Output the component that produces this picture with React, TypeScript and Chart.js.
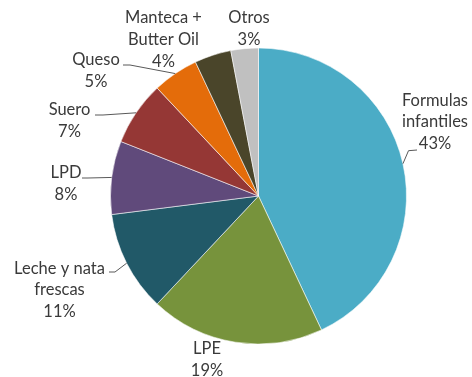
import React, { useEffect, useRef } from "react";
import { Chart, registerables } from "chart.js";

Chart.register(...registerables);

// Share of each product group (%)
const categories: string[] = [
  "Formulas infantiles",
  "LPE",
  "Leche y nata frescas",
  "LPD",
  "Suero",
  "Queso",
  "Manteca + Butter Oil",
  "Otros",
];
const shares: number[] = [43, 19, 11, 8, 7, 5, 4, 3];
const sliceColors: string[] = [
  "#4BACC6",
  "#77933C",
  "#215968",
  "#604A7B",
  "#953735",
  "#E46C0A",
  "#4A452A",
  "#C0C0C0",
];

// Text lines of each data label (name lines, then the percentage)
const labelLines: string[][] = [
  ["Formulas", "infantiles"],
  ["LPE"],
  ["Leche y nata", "frescas"],
  ["LPD"],
  ["Suero"],
  ["Queso"],
  ["Manteca +", "Butter Oil"],
  ["Otros"],
];

// Label placement relative to the pie centre: block centre (dx, dy),
// plus an optional leader line attachment point (relative to block centre)
// and an elbow offset from that attachment.
type LabelLayout = {
  dx: number;
  dy: number;
  attach?: [number, number];
  elbow?: [number, number];
};
const labelLayout: LabelLayout[] = [
  { dx: 176.5, dy: -74, attach: [-18, 28], elbow: [-8.5, 0.7] },
  { dx: -51.5, dy: 164 },
  { dx: -199, dy: 94, attach: [49.5, -18], elbow: [6, 0] },
  { dx: -192.5, dy: -12.5, attach: [16, -5.5], elbow: [6, 0] },
  { dx: -189, dy: -75, attach: [25.5, -6], elbow: [8, 0] },
  { dx: -162.5, dy: -125, attach: [27, -6], elbow: [7, 0] },
  { dx: -95, dy: -156.5 },
  { dx: -9.5, dy: -167 },
];

const LINE_HEIGHT = 21.7;
const FONT = "16.5px Lato, 'Open Sans', sans-serif";

const pieLabels = {
  id: "pieLabels",
  afterDatasetsDraw(chart: any) {
    const ctx: CanvasRenderingContext2D = chart.ctx;
    const meta = chart.getDatasetMeta(0);
    const values: number[] = chart.data.datasets[0].data;
    ctx.save();
    meta.data.forEach((arc: any, i: number) => {
      const layout = labelLayout[i];
      if (!layout) return;
      const { x, y, startAngle, endAngle, outerRadius } = arc.getProps(
        ["x", "y", "startAngle", "endAngle", "outerRadius"],
        true
      );
      const mid = (startAngle + endAngle) / 2;
      const ax = x + Math.cos(mid) * outerRadius;
      const ay = y + Math.sin(mid) * outerRadius;
      const cx = x + layout.dx;
      const cy = y + layout.dy;

      if (layout.attach) {
        const px = cx + layout.attach[0];
        const py = cy + layout.attach[1];
        const ex = px + (layout.elbow ? layout.elbow[0] : 0);
        const ey = py + (layout.elbow ? layout.elbow[1] : 0);
        ctx.strokeStyle = "#595959";
        ctx.lineWidth = 1;
        ctx.beginPath();
        ctx.moveTo(px, py);
        ctx.lineTo(ex, ey);
        ctx.lineTo(ax, ay);
        ctx.stroke();
      }

      const lines = [...labelLines[i], `${values[i]}%`];
      const top = cy - ((lines.length - 1) * LINE_HEIGHT) / 2;
      ctx.font = FONT;
      ctx.fillStyle = "#3a3a3a";
      ctx.textAlign = "center";
      ctx.textBaseline = "middle";
      lines.forEach((t, k) => ctx.fillText(t, cx, top + k * LINE_HEIGHT));
    });
    ctx.restore();
  },
};

export default function App() {
  const canvasRef = useRef<HTMLCanvasElement | null>(null);

  useEffect(() => {
    if (!canvasRef.current) return;
    const chart = new Chart(canvasRef.current, {
      type: "pie",
      data: {
        labels: categories,
        datasets: [
          {
            data: shares,
            backgroundColor: sliceColors,
            borderColor: "rgba(255,255,255,0.55)",
            borderWidth: 1,
          },
        ],
      },
      options: {
        responsive: false,
        animation: false,
        layout: { padding: { top: 47.5, bottom: 32.5, left: 110, right: 65 } },
        plugins: {
          legend: { display: false },
          tooltip: { enabled: false },
        },
      },
      plugins: [pieLabels],
    });
    return () => chart.destroy();
  }, []);

  return (
    <div style={{ position: "fixed", left: 0, top: 0, width: 472, height: 377, background: "#fff" }}>
      <canvas ref={canvasRef} width={472} height={377} />
    </div>
  );
}
